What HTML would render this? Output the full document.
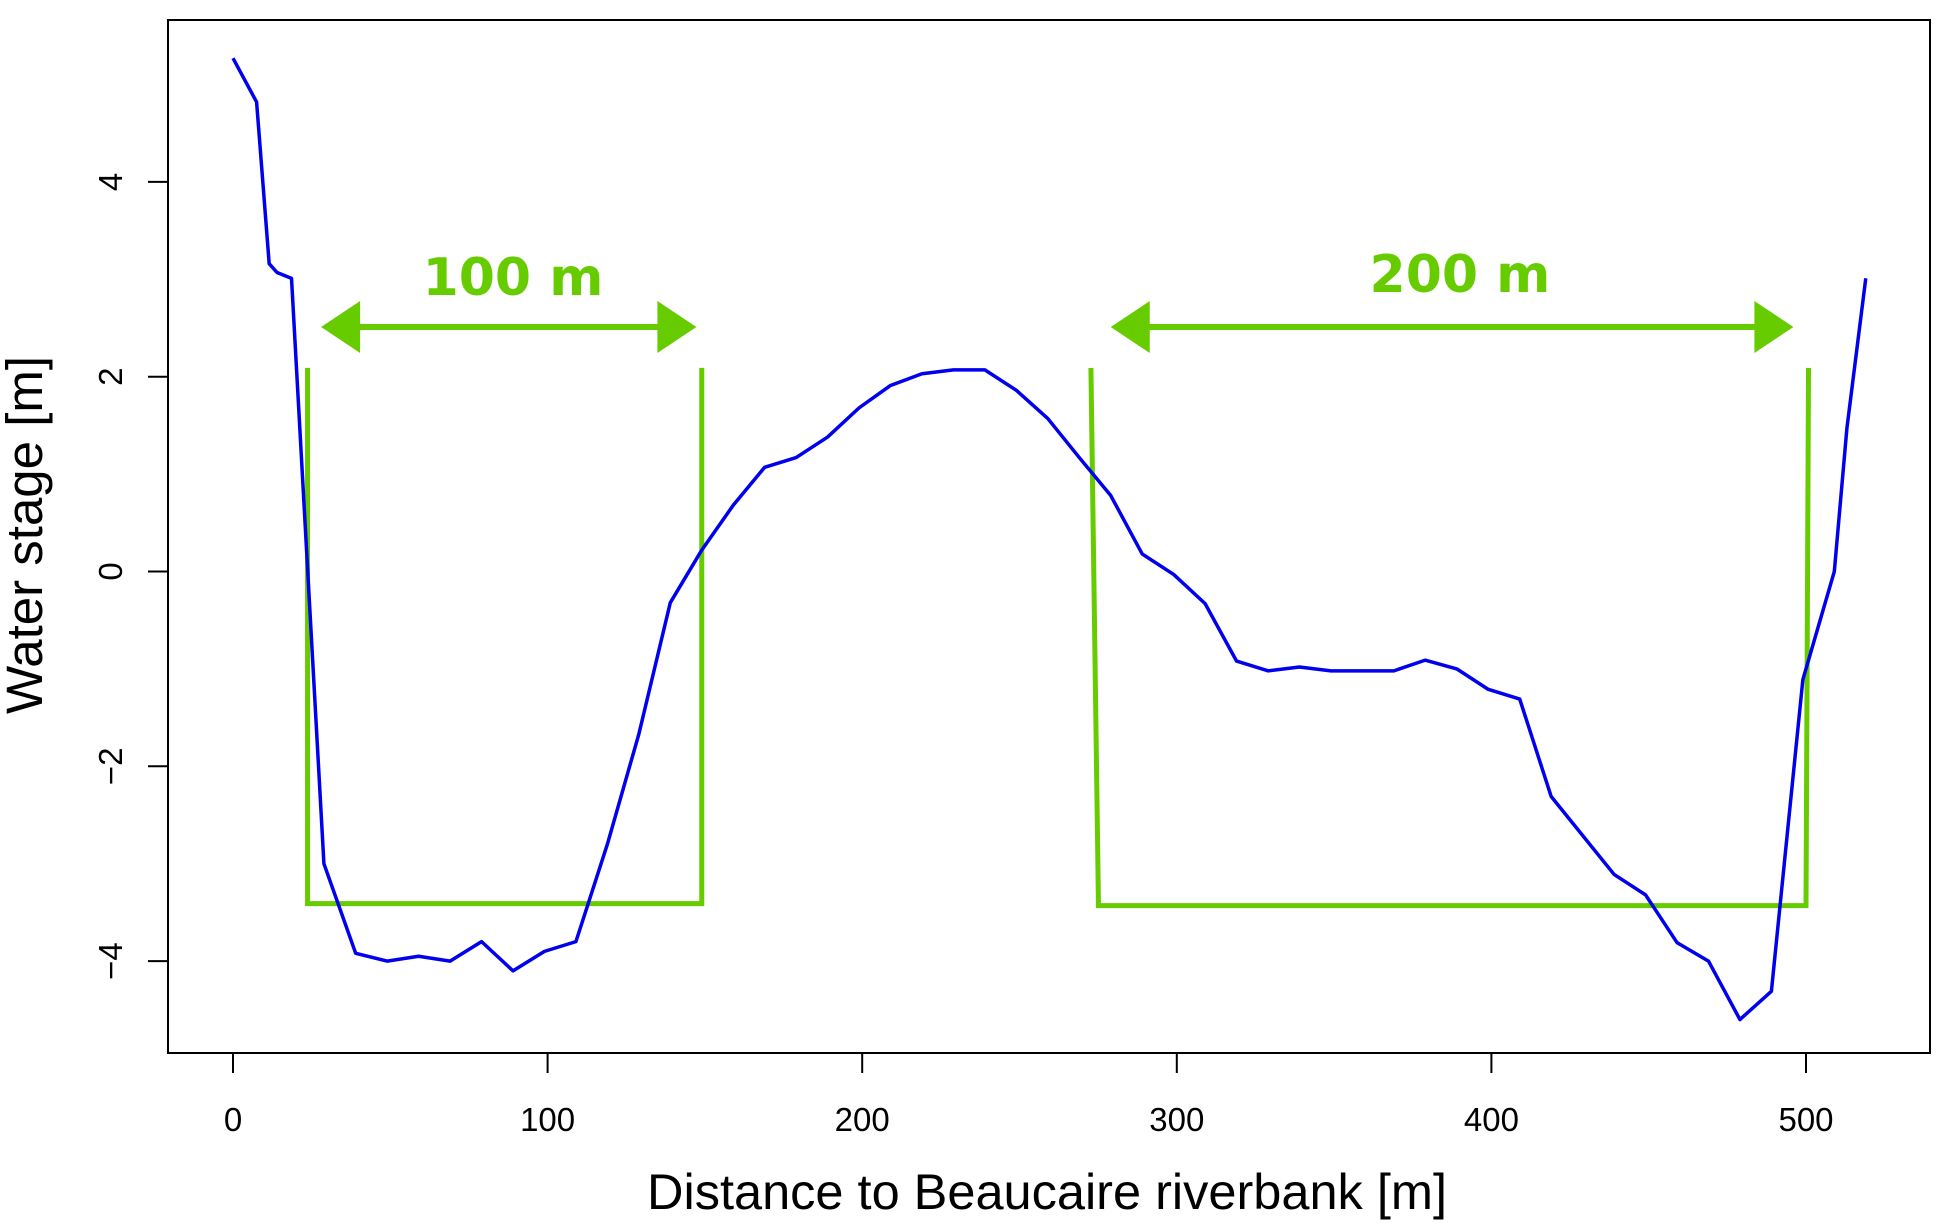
<!DOCTYPE html>
<html><head><meta charset="utf-8"><style>
html,body{margin:0;padding:0;background:#fff;}
svg{display:block;}
text{font-family:"Liberation Sans",Arial,sans-serif;}
</style></head><body>
<svg id="chart" width="1938" height="1223" viewBox="0 0 1938 1223" xmlns="http://www.w3.org/2000/svg">
<rect x="168" y="20" width="1762" height="1033" fill="none" stroke="#000" stroke-width="2"/>
<g id="xaxis"></g>
<g id="yaxis"></g>
<text x="1047" y="1209" font-size="50.5" text-anchor="middle">Distance to Beaucaire riverbank [m]</text>
<text transform="translate(42,535) rotate(-90)" font-size="51" text-anchor="middle">Water stage [m]</text>
<g id="marks"></g>
</svg>
<script>
const distX = [0,7.5,11.5,14,18.6,28.9,39,49,59,69,79,89,99,109,119,129,139,149,159,169,179,189,199,209,219,229,239,249,259,269,279,289,299,309,319,329,339,349,369,379,389,399,409,419,439,449,459,469,479,489,499,509,513,519];
const stageY = [5.27,4.82,3.16,3.07,3.01,-3.0,-3.92,-4.0,-3.95,-4.0,-3.8,-4.1,-3.9,-3.8,-2.8,-1.67,-0.32,0.22,0.68,1.07,1.17,1.38,1.68,1.91,2.03,2.07,2.07,1.86,1.57,1.17,0.78,0.18,-0.03,-0.33,-0.92,-1.02,-0.98,-1.02,-1.02,-0.91,-1.0,-1.21,-1.31,-2.31,-3.11,-3.32,-3.81,-4.0,-4.6,-4.31,-1.11,0,1.47,3.01];
const xTicks = [0,100,200,300,400,500];
const yTicks = [-4,-2,0,2,4];
const yTickLabels = ["\u22124","\u22122","0","2","4"];
const box1 = [23.7,23.7,149,149,2.09,-3.41];
const box2 = [272.7,275.1,500,500.8,2.09,-3.43];
const arrow1 = [28,147.3,2.51];
const arrow2 = [279,496,2.51];
const arrowLabels = ["100 m","200 m"];
const labelPos = [[89,2.84],[390,2.87]];

const sx = v => 233 + v*3.146;
const sy = v => 571.5 - v*97.4;
const NS = "http://www.w3.org/2000/svg";
function mk(tag, attrs, parent){const e=document.createElementNS(NS,tag);for(const k in attrs)e.setAttribute(k,attrs[k]);parent.appendChild(e);return e;}
const xa=document.getElementById('xaxis'), ya=document.getElementById('yaxis'), mg=document.getElementById('marks');
xTicks.forEach(t=>{
  const l=mk('line',{x1:sx(t),x2:sx(t),y1:1053,y2:1073,stroke:'#000','stroke-width':2},xa);
  
  
  const tx=mk('text',{x:sx(t),y:1131,'font-size':33,'text-anchor':'middle'},xa);
  tx.textContent=t;
  
  
});
yTicks.forEach((t,i)=>{
  const l=mk('line',{x1:148,x2:168,y1:sy(t),y2:sy(t),stroke:'#000','stroke-width':2},ya);
  
  
  const tx=mk('text',{transform:`translate(122,${sy(t)}) rotate(-90)`,'font-size':33,'text-anchor':'middle'},ya);
  tx.textContent=yTickLabels[i];
  
  
});
const G='#66cc00';
[box1,box2].forEach((b,i)=>{
  const p=mk('polyline',{points:`${sx(b[0])},${sy(b[4])} ${sx(b[1])},${sy(b[5])} ${sx(b[2])},${sy(b[5])} ${sx(b[3])},${sy(b[4])}`,fill:'none',stroke:G,'stroke-width':5},mg);
  
  
});
[arrow1,arrow2].forEach((a,i)=>{
  const L=sx(a[0]),R=sx(a[1]),Y=sy(a[2]);
  const g=mk('g',{},mg);
  
  
  mk('line',{x1:L+30,x2:R-30,y1:Y,y2:Y,stroke:G,'stroke-width':6},g);
  mk('polygon',{points:`${L},${Y} ${L+39},${Y-26} ${L+39},${Y+26}`,fill:G},g);
  mk('polygon',{points:`${R},${Y} ${R-39},${Y-26} ${R-39},${Y+26}`,fill:G},g);
  const t=mk('text',{x:sx(labelPos[i][0]),y:sy(labelPos[i][1]),'font-size':52,'font-weight':'bold','text-anchor':'middle',fill:G,style:'font-family:"DejaVu Sans",sans-serif'},mg);
  t.textContent=arrowLabels[i];
  
  
});
const pl=mk('polyline',{points:distX.map((x,i)=>sx(x)+','+sy(stageY[i])).join(' '),fill:'none',stroke:'#0000ee','stroke-width':3.5,'stroke-linejoin':'round'},mg);


</script>
</body></html>
